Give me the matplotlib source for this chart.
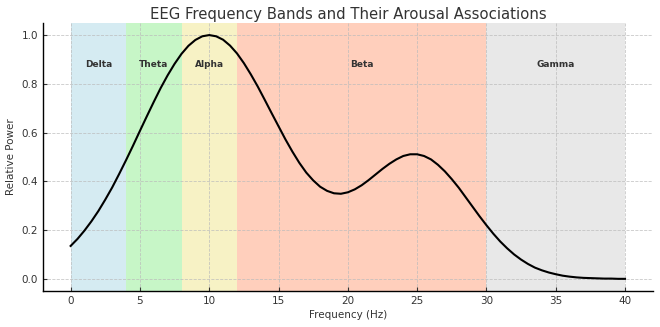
import matplotlib
matplotlib.use("Agg")
import matplotlib.pyplot as plt

# Relative spectral power sampled every 0.5 Hz
freq = [i * 0.5 for i in range(81)]
power = [0.135, 0.164, 0.198, 0.236, 0.278, 0.325, 0.375, 0.430, 0.487, 0.546,
         0.607, 0.667, 0.726, 0.783, 0.835, 0.882, 0.923, 0.956, 0.980, 0.995,
         1.000, 0.995, 0.981, 0.957, 0.925, 0.885, 0.839, 0.789, 0.735, 0.680,
         0.626, 0.572, 0.522, 0.476, 0.436, 0.404, 0.378, 0.361, 0.351, 0.349,
         0.355, 0.367, 0.384, 0.405, 0.428, 0.451, 0.472, 0.490, 0.504, 0.511,
         0.511, 0.504, 0.490, 0.468, 0.441, 0.409, 0.374, 0.335, 0.296, 0.257,
         0.220, 0.185, 0.153, 0.125, 0.100, 0.079, 0.061, 0.046, 0.035, 0.026,
         0.019, 0.013, 0.009, 0.006, 0.004, 0.003, 0.002, 0.001, 0.001, 0.000,
         0.000]

# Frequency bands
band_names = ["Delta", "Theta", "Alpha", "Beta", "Gamma"]
band_lo = [0, 4, 8, 12, 30]
band_hi = [4, 8, 12, 30, 40]
band_colors = ["#add8e6", "#90ee90", "#f0e68c", "#ffa07a", "#d3d3d3"]

text_color = "#333333"

fig = plt.figure(figsize=(6.6, 3.27), dpi=100)
ax = fig.add_axes([0.065, 0.110, 0.924, 0.820])

for name, lo, hi, c in zip(band_names, band_lo, band_hi, band_colors):
    ax.axvspan(lo, hi, color=c, alpha=0.5, lw=0)
    ax.text((lo + hi) / 2, 0.88, name, ha="center", va="center",
            fontsize=6.5, fontweight="bold", color=text_color)

ax.plot(freq, power, color="black", lw=1.5)

ax.set_xlim(-2, 42)
ax.set_ylim(-0.05, 1.05)
ax.set_xticks([0, 5, 10, 15, 20, 25, 30, 35, 40])
ax.set_yticks([0.0, 0.2, 0.4, 0.6, 0.8, 1.0])

ax.grid(True, ls="--", lw=0.6, color="#bbbbbb", alpha=0.8)
ax.tick_params(direction="in", labelsize=7.5, colors=text_color, length=3)
for s in ("top", "right"):
    ax.spines[s].set_visible(False)
for s in ("left", "bottom"):
    ax.spines[s].set_linewidth(1.0)

ax.set_title("EEG Frequency Bands and Their Arousal Associations",
             fontsize=10.7, color=text_color, pad=3)
ax.set_xlabel("Frequency (Hz)", fontsize=7.5, color=text_color, labelpad=3)
ax.set_ylabel("Relative Power", fontsize=7.5, color=text_color, labelpad=4)

fig.savefig("out.png", dpi=100)
